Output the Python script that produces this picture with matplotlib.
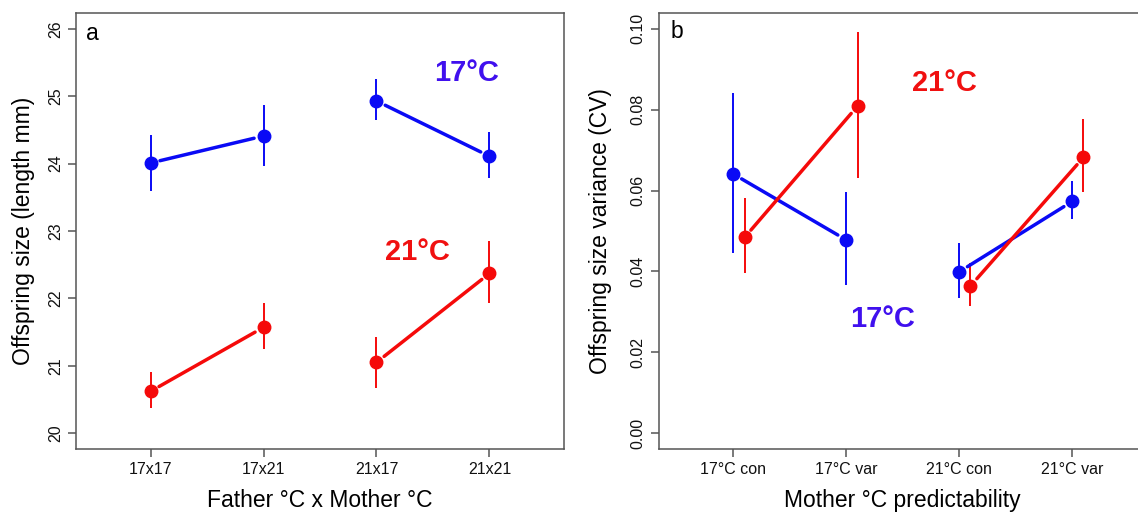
import matplotlib
matplotlib.use("Agg")
import matplotlib.pyplot as plt

# ---- data panel a ----
a_cats = ["17x17", "17x21", "21x17", "21x21"]
a_blue = [24.01, 24.41, 24.93, 24.11]
a_blue_lo = [23.60, 23.96, 24.65, 23.79]
a_blue_hi = [24.42, 24.87, 25.25, 24.47]
a_red = [20.62, 21.57, 21.05, 22.37]
a_red_lo = [20.38, 21.25, 20.67, 21.93]
a_red_hi = [20.90, 21.93, 21.43, 22.85]

# ---- data panel b ----
b_cats = ["17°C con", "17°C var", "21°C con", "21°C var"]
b_blue = [0.0641, 0.0478, 0.0399, 0.0573]
b_blue_lo = [0.0446, 0.0366, 0.0334, 0.0529]
b_blue_hi = [0.0842, 0.0596, 0.0471, 0.0623]
b_red = [0.0484, 0.0809, 0.0364, 0.0682]
b_red_lo = [0.0395, 0.0632, 0.0315, 0.0596]
b_red_hi = [0.0581, 0.0993, 0.0420, 0.0776]

BLUE = "#0A0AF5"
RED = "#F50A0A"
LBL_BLUE = "#4010EE"
LBL_RED = "#F01010"
AXC = "#555555"

plt.rcParams["font.family"] = ["Liberation Sans", "DejaVu Sans"]

fig = plt.figure(figsize=(11.38, 5.14), dpi=100)
axA = fig.add_axes([76/1138, 1-449.3/514, 488/1138, 436.6/514])
axB = fig.add_axes([658.7/1138, 1-449.3/514, 488/1138, 436.6/514])


def draw(ax, xs, ys, lo, hi, color, pairs):
    for x, y, l, h in zip(xs, ys, lo, hi):
        ax.plot([x, x], [l, h], color=color, lw=1.4, solid_capstyle="butt", zorder=2)
    for i, j in pairs:
        ax.annotate("", xy=(xs[j], ys[j]), xytext=(xs[i], ys[i]),
                    arrowprops=dict(arrowstyle="-", lw=2.5, color=color,
                                    shrinkA=7, shrinkB=7), zorder=3)
    ax.plot(xs, ys, "o", color=color, ms=9, mec=color, zorder=4, ls="none")


def style(ax):
    for s in ax.spines.values():
        s.set_color(AXC)
        s.set_linewidth(1.1)
    ax.tick_params(axis="both", colors=AXC, length=6, width=1.1, labelsize=11.5,
                   labelcolor="#111111")
    ax.tick_params(axis="y", pad=3.5)
    ax.tick_params(axis="x", pad=3.0)
    for t in ax.get_yticklabels():
        t.set_rotation(90)
        t.set_va("center")


pairs = [(0, 1), (2, 3)]

# panel a
xa = [1, 2, 3, 4]
draw(axA, xa, a_blue, a_blue_lo, a_blue_hi, BLUE, pairs)
draw(axA, xa, a_red, a_red_lo, a_red_hi, RED, pairs)
axA.set_xlim(0.34, 4.66)
axA.set_ylim(19.76, 26.24)
axA.set_xticks(xa)
axA.set_xticklabels(a_cats)
axA.set_yticks([20, 21, 22, 23, 24, 25, 26])
style(axA)
axA.set_xlabel("Father °C x Mother °C", fontsize=16.5, labelpad=9)
axA.set_ylabel("Offspring size (length mm)", fontsize=16.5)
axA.yaxis.set_label_coords(-0.084, 0.5)
axA.text(3.8, 25.35, "17°C", color=LBL_BLUE, fontsize=21, fontweight="bold",
         ha="center", va="center")
axA.text(3.36, 22.69, "21°C", color=LBL_RED, fontsize=21, fontweight="bold",
         ha="center", va="center")
axA.text(0.033, 0.953, "a", transform=axA.transAxes, fontsize=16.5,
         ha="center", va="center")

# panel b
xb_blue = [1, 2, 3, 4]
xb_red = [1.1, 2.1, 3.1, 4.1]
draw(axB, xb_blue, b_blue, b_blue_lo, b_blue_hi, BLUE, pairs)
draw(axB, xb_red, b_red, b_red_lo, b_red_hi, RED, pairs)
axB.set_xlim(0.34, 4.66)
axB.set_ylim(-0.004, 0.104)
axB.set_xticks(xb_blue)
axB.set_xticklabels(b_cats)
axB.set_yticks([0.0, 0.02, 0.04, 0.06, 0.08, 0.10])
axB.set_yticklabels(["0.00", "0.02", "0.04", "0.06", "0.08", "0.10"])
style(axB)
axB.set_xlabel("Mother °C predictability", fontsize=16.5, labelpad=9)
axB.set_ylabel("Offspring size variance (CV)", fontsize=16.5)
axB.yaxis.set_label_coords(-0.096, 0.5)
axB.text(2.87, 0.0867, "21°C", color=LBL_RED, fontsize=21, fontweight="bold",
         ha="center", va="center")
axB.text(2.32, 0.0283, "17°C", color=LBL_BLUE, fontsize=21, fontweight="bold",
         ha="center", va="center")
axB.text(0.0375, 0.956, "b", transform=axB.transAxes, fontsize=16.5,
         ha="center", va="center")

fig.savefig("out.png", dpi=100, facecolor="white")
